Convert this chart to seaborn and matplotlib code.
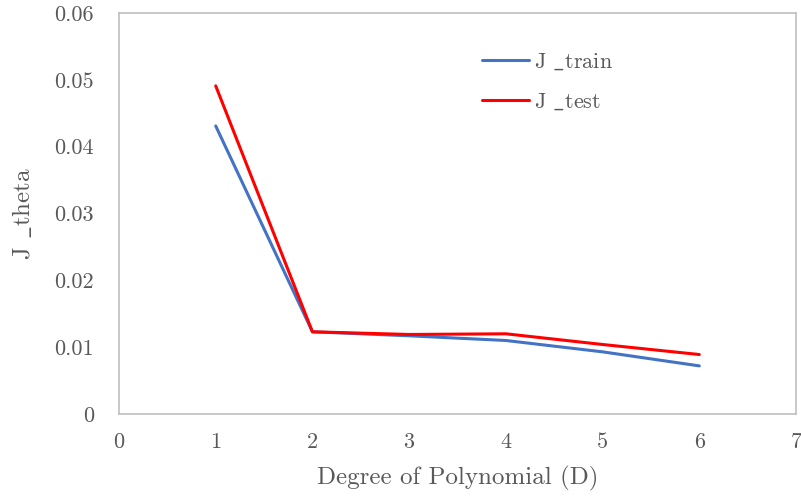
import matplotlib
matplotlib.use("Agg")
import matplotlib.pyplot as plt
import seaborn as sns
import pandas as pd

degree = [1, 2, 3, 4, 5, 6]
j_train = [0.0431, 0.0123, 0.0117, 0.0110, 0.0093, 0.0072]
j_test = [0.0491, 0.0123, 0.0119, 0.0120, 0.0104, 0.0089]
x_ticks = [0, 1, 2, 3, 4, 5, 6, 7]
y_ticks = [0, 0.01, 0.02, 0.03, 0.04, 0.05, 0.06]
y_tick_labels = ["0", "0.01", "0.02", "0.03", "0.04", "0.05", "0.06"]
train_label = r"J $\_$train"
test_label = r"J $\_$test"

df = pd.DataFrame({"D": degree * 2,
                   "J": j_train + j_test,
                   "series": [train_label] * len(degree) + [test_label] * len(degree)})

sns.set_style("white")
plt.rcParams["font.family"] = ["cmr10", "DejaVu Serif"]
plt.rcParams["mathtext.fontset"] = "cm"
plt.rcParams["axes.unicode_minus"] = False

fig = plt.figure(figsize=(8.01, 5.01), dpi=100)
ax = fig.add_axes([119/801, 87/501, 677/801, 401/501])

sns.lineplot(data=df, x="D", y="J", hue="series", ax=ax,
             palette={train_label: "#4472C4", test_label: "#FF0000"},
             linewidth=2.2, legend=True)

ax.set_xlim(0, 7)
ax.set_ylim(0, 0.06)
ax.set_xticks(x_ticks)
ax.set_xticklabels([str(t) for t in x_ticks])
ax.set_yticks(y_ticks)
ax.set_yticklabels(y_tick_labels)
text_color = "#595959"
ax.tick_params(axis="both", length=0, labelsize=16, colors=text_color)
ax.tick_params(axis="y", pad=18)
ax.tick_params(axis="x", pad=13)
for s in ax.spines.values():
    s.set_color("#BFBFBF")
    s.set_linewidth(1.2)
ax.set_xlabel("Degree of Polynomial (D)", fontsize=18, color=text_color, labelpad=10)
ax.set_ylabel(r"J $\_$theta", fontsize=18, color=text_color, labelpad=14)

leg = ax.legend(loc="upper left", bbox_to_anchor=(0.507, 0.955), frameon=False,
                fontsize=16, labelcolor=text_color, handlelength=2.1,
                labelspacing=0.9, handletextpad=0.25)

fig.savefig("out.png", dpi=100)
